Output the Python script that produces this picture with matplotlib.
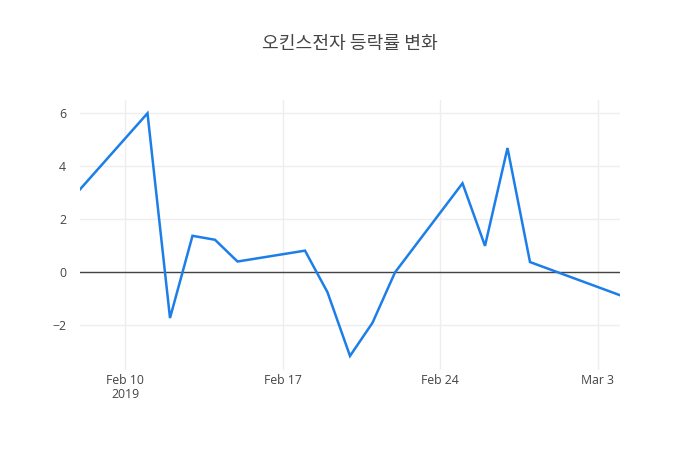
import matplotlib
matplotlib.use("Agg")
import matplotlib.pyplot as plt
import numpy as np
import pandas as pd

plt.rcParams['font.family'] = ['Open Sans', 'Noto Sans CJK KR', 'DejaVu Sans']

dates = ["2019-02-08", "2019-02-11", "2019-02-12", "2019-02-13", "2019-02-14",
         "2019-02-15", "2019-02-18", "2019-02-19", "2019-02-20", "2019-02-21",
         "2019-02-22", "2019-02-25", "2019-02-26", "2019-02-27", "2019-02-28",
         "2019-03-04"]
values = [3.13, 6.0, -1.72, 1.38, 1.23, 0.41, 0.82, -0.75, -3.15, -1.90,
          0.0, 3.36, 1.0, 4.69, 0.39, -0.86]
title = "오킨스전자 등락률 변화"
xtick_dates = ["2019-02-10", "2019-02-17", "2019-02-24", "2019-03-03"]
xtick_labels = ["Feb 10\n2019", "Feb 17", "Feb 24", "Mar 3"]
ytick_values = [-2, 0, 2, 4, 6]

x = pd.to_datetime(dates)
fig = plt.figure(figsize=(7, 4.5), dpi=100)
ax = fig.add_axes([80/700, 80/450, 540/700, 270/450])

ax.plot(x, values, color='#1c7ee8', linewidth=1.8, solid_joinstyle='miter', zorder=3)
ax.axhline(0, color='#444444', linewidth=1, zorder=2)

ax.set_xlim(x[0], x[-1])
ax.set_ylim(-3.68, 6.5)

ax.set_xticks(pd.to_datetime(xtick_dates))
ax.set_xticklabels(xtick_labels, linespacing=1.05)
ax.set_yticks(ytick_values)
ax.set_yticklabels([str(v).replace('-', '\u2212') for v in ytick_values])

ax.grid(True, color='#eeeeee', linewidth=1, zorder=0)
ax.set_axisbelow(True)
for s in ax.spines.values():
    s.set_visible(False)
ax.tick_params(axis='both', length=0, labelsize=8.8, colors='#444444')
ax.tick_params(axis='x', pad=3)
ax.tick_params(axis='y', pad=10)

fig.text(0.5, 1 - 44/450, title, ha='center', va='center', fontsize=13.1,
         color='#444444', family=['Noto Sans CJK KR', 'DejaVu Sans'])

fig.savefig("out.png", dpi=100, facecolor='white')
